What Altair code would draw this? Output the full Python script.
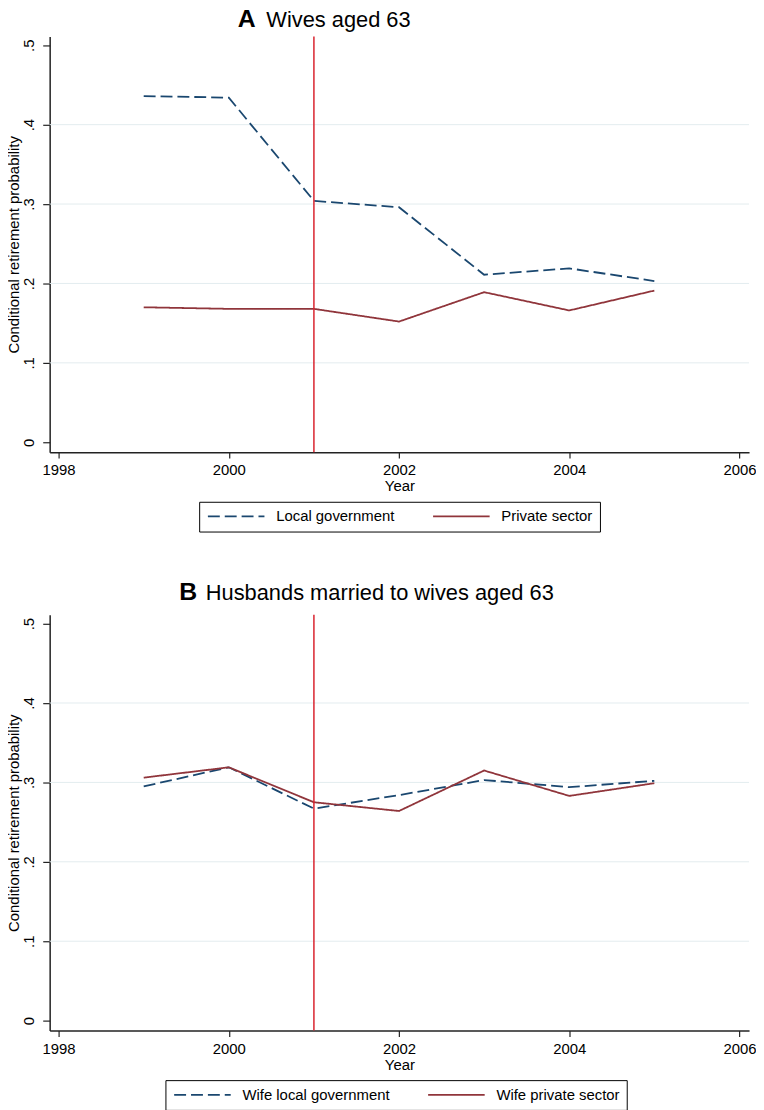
import altair as alt
import pandas as pd

# ---- data ----
years = [1999, 2000, 2001, 2002, 2003, 2004, 2005]
wives_local_gov = [0.436, 0.434, 0.304, 0.296, 0.211, 0.219, 0.203]
wives_private = [0.170, 0.168, 0.168, 0.152, 0.189, 0.166, 0.191]
husb_wife_local_gov = [0.295, 0.319, 0.267, 0.284, 0.303, 0.294, 0.302]
husb_wife_private = [0.306, 0.319, 0.275, 0.264, 0.315, 0.283, 0.299]

series_top = ["Local government", "Private sector"]
series_bottom = ["Wife local government", "Wife private sector"]

x_ticks = [1998, 2000, 2002, 2004, 2006]
y_ticks = [0, 0.1, 0.2, 0.3, 0.4, 0.5]
grid_vals = [0.1, 0.2, 0.3, 0.4]
reform_year = [2001]

NAVY = "#1a476f"
MAROON = "#90353b"
RED = "#d9232e"
GRID = "#e3ecef"
FONT = "Liberation Sans"

W, H = 705, 419
xscale = alt.Scale(domain=[1997.895, 2006.113], nice=False, zero=False)
yscale = alt.Scale(domain=[-0.0125, 0.511], nice=False, zero=False)


def panel(names, v1, v2, letter, title, letter_x, title_x, title_y, legend_x):
    df = pd.DataFrame({
        "year": years * 2,
        "value": v1 + v2,
        "series": [names[0]] * len(years) + [names[1]] * len(years),
    })
    # wide horizontal line symbol: path spans -5..5, scaled by sqrt(size)/2
    leg = alt.Legend(
        title=None, orient="none", legendX=legend_x, legendY=469,
        direction="horizontal", strokeColor="black", padding=7,
        symbolType="M-5,0H5", symbolSize=130, symbolStrokeWidth=1.8,
        symbolOffset=22.8,
        labelFont=FONT, labelFontSize=15, labelColor="black",
        labelOffset=32.8, columnPadding=35, labelLimit=400,
    )
    xaxis = alt.Axis(values=x_ticks, format="d", title="Year", grid=False,
                     tickSize=6, labelPadding=5, titlePadding=1,
                     labelFont=FONT, labelFontSize=15, labelColor="black",
                     titleFont=FONT, titleFontSize=15, titleFontWeight="normal",
                     titleColor="black", domainColor="#222", tickColor="#222",
                     domainWidth=1.5, tickWidth=1.2, labelFlush=False)
    yaxis = alt.Axis(values=y_ticks, title="Conditional retirement probability",
                     grid=False, tickSize=7, labelPadding=6, titlePadding=0,
                     labelAngle=270, labelAlign="center", labelBaseline="bottom",
                     labelExpr="datum.value == 0 ? '0' : '.' + round(datum.value * 10)",
                     labelFont=FONT, labelFontSize=15, labelColor="black",
                     titleFont=FONT, titleFontSize=15, titleFontWeight="normal",
                     titleColor="black", domainColor="#222", tickColor="#222",
                     domainWidth=1.5, tickWidth=1.2, labelFlush=False)

    grid = alt.Chart(pd.DataFrame({"g": grid_vals})).mark_rule(
        color=GRID, strokeWidth=1).encode(
        y=alt.Y("g:Q", scale=yscale, axis=yaxis))

    lines = alt.Chart(df).mark_line(strokeWidth=1.8).encode(
        x=alt.X("year:Q", scale=xscale, axis=xaxis),
        y=alt.Y("value:Q", scale=yscale, axis=yaxis),
        color=alt.Color("series:N", scale=alt.Scale(domain=names, range=[NAVY, MAROON]),
                        legend=leg),
        strokeDash=alt.StrokeDash("series:N",
                                  scale=alt.Scale(domain=names, range=[[12, 5], [1, 0]]),
                                  legend=leg),
    )

    vline = alt.Chart(pd.DataFrame({"yr": reform_year})).mark_rule(
        color=RED, strokeWidth=1.5).encode(x=alt.X("yr:Q", scale=xscale, axis=xaxis))

    t1 = alt.Chart(pd.DataFrame({"t": [letter]})).mark_text(
        font=FONT, fontSize=25, fontWeight="bold", align="left",
        baseline="alphabetic", color="black").encode(
        x=alt.value(letter_x), y=alt.value(title_y), text="t:N")
    t2 = alt.Chart(pd.DataFrame({"t": [title]})).mark_text(
        font=FONT, fontSize=22, fontWeight="normal", align="left",
        baseline="alphabetic", color="black").encode(
        x=alt.value(title_x), y=alt.value(title_y), text="t:N")

    return alt.layer(grid, lines, vline, t1, t2).properties(width=W, height=H)


top = panel(series_top, wives_local_gov, wives_private, "A", "Wives aged 63",
            189.7, 218.4, -10, 150.7)
bottom = panel(series_bottom, husb_wife_local_gov, husb_wife_private, "B",
               "Husbands married to wives aged 63", 130.7, 157.4, -15.1, 116.7)

chart = alt.vconcat(top, bottom, spacing=47).resolve_scale(
    color="independent", strokeDash="independent"
).properties(
    padding={"left": -2, "top": -5.7, "right": 0, "bottom": 0},
    background="white",
).configure_view(stroke=None)

chart.save("out.html", embed_options={"renderer": "svg", "actions": False})
